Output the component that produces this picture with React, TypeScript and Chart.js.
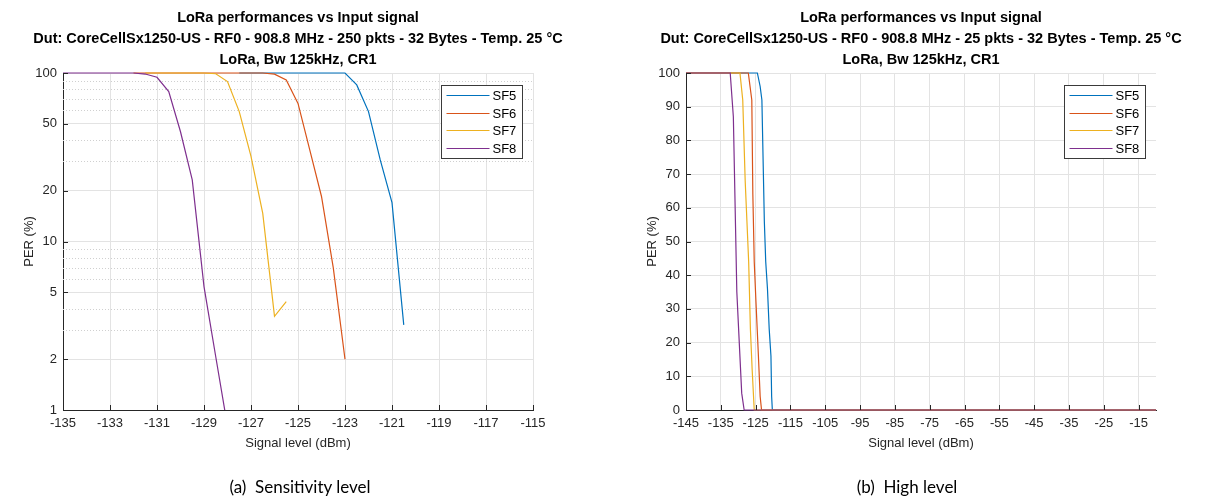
import React, { useEffect, useRef } from "react";
import { Chart, registerables } from "chart.js";
Chart.register(...registerables);

const seriesNames = ["SF5", "SF6", "SF7", "SF8"];
const seriesColors = ["#0072BD", "#D95319", "#EDB120", "#7E2F8E"];

const titleLinesSens = [
  "LoRa performances vs Input signal",
  "Dut: CoreCellSx1250-US - RF0 - 908.8 MHz - 250 pkts - 32 Bytes - Temp. 25 °C",
  "LoRa, Bw 125kHz, CR1",
];
const titleLinesHigh = [
  "LoRa performances vs Input signal",
  "Dut: CoreCellSx1250-US - RF0 - 908.8 MHz - 25 pkts - 32 Bytes - Temp. 25 °C",
  "LoRa, Bw 125kHz, CR1",
];
const xAxisTitle = "Signal level (dBm)";
const yAxisTitle = "PER (%)";
const captionSens = "(a)  Sensitivity level";
const captionHigh = "(b)  High level";

// Sensitivity level chart (log PER)
const sensXTicks = [-135, -133, -131, -129, -127, -125, -123, -121, -119, -117, -115];
const sensYTicks = [1, 2, 5, 10, 20, 50, 100];
const sensYMinor = [3, 4, 6, 7, 8, 9, 30, 40, 60, 70, 80, 90];

const sensLevelSF5 = [-127.5, -126, -125, -124, -123, -122.5, -122, -121.5, -121, -120.5];
const sensPerSF5 = [100, 100, 100, 100, 100, 85, 59, 30.5, 17, 3.2];
const sensLevelSF6 = [-132, -130, -128, -126.5, -126, -125.5, -125, -124.5, -124, -123.5, -123];
const sensPerSF6 = [100, 100, 100, 100, 98.5, 91, 66, 35, 18.5, 7, 2];
const sensLevelSF7 = [-131.5, -130, -129, -128.5, -128, -127.5, -127, -126.5, -126, -125.5];
const sensPerSF7 = [100, 100, 100, 99, 89, 59, 32, 14.7, 3.6, 4.4];
const sensLevelSF8 = [-135, -134, -133, -132, -131.5, -131, -130.5, -130, -129.5, -129, -128.5, -128];
const sensPerSF8 = [100, 100, 100, 100, 98.6, 94.3, 77.5, 44.8, 23.2, 5.4, 2.07, 0.8];

// High level chart (linear PER)
const highXTicks = [-145, -135, -125, -115, -105, -95, -85, -75, -65, -55, -45, -35, -25, -15];
const highYTicks = [0, 10, 20, 30, 40, 50, 60, 70, 80, 90, 100];

const highLevelSF5 = [-145, -135, -125, -124.5, -123.7, -123.2, -122.5, -122.1, -121.6, -121.1, -120.6, -120.4, -120.2, -115, -105, -95, -85, -75, -65, -55, -45, -35, -25, -15, -10];
const highPerSF5 = [100, 100, 100, 100, 96, 92, 56, 44, 36, 24, 16, 4, 0, 0, 0, 0, 0, 0, 0, 0, 0, 0, 0, 0, 0];
const highLevelSF6 = [-145, -135, -130, -127.1, -126.1, -125.8, -125.4, -124.9, -124.2, -123.7, -123.3, -115, -105, -95, -85, -75, -65, -55, -45, -35, -25, -15, -10];
const highPerSF6 = [100, 100, 100, 100, 92, 64, 44, 32, 16, 4, 0, 0, 0, 0, 0, 0, 0, 0, 0, 0, 0, 0, 0];
const highLevelSF7 = [-145, -135, -130, -129.5, -128.7, -128, -127.5, -127, -126.5, -126, -125.4, -115, -105, -95, -85, -75, -65, -55, -45, -35, -25, -15, -10];
const highPerSF7 = [100, 100, 100, 100, 92, 68, 56, 44, 24, 12, 0, 0, 0, 0, 0, 0, 0, 0, 0, 0, 0, 0, 0];
const highLevelSF8 = [-145, -140, -135, -133, -132.3, -131.4, -130.4, -129.7, -129, -128.3, -125, -115, -105, -95, -85, -75, -65, -55, -45, -35, -25, -15, -10];
const highPerSF8 = [100, 100, 100, 100, 100, 87, 35, 20, 5, 0, 0, 0, 0, 0, 0, 0, 0, 0, 0, 0, 0, 0, 0];

const FONT = "'Liberation Sans', Arial, Helvetica, sans-serif";
const AXIS_COLOR = "#262626";
const GRID_COLOR = "#e3e3e3";

function toPoints(xs: number[], ys: number[]) {
  return xs.map((x, i) => ({ x, y: ys[i] }));
}

function makeDatasets(levels: number[][], pers: number[][], clipBottom: number, lw: number) {
  return seriesNames.map((name, i) => ({
    label: name,
    data: toPoints(levels[i], pers[i]),
    borderColor: seriesColors[i],
    backgroundColor: seriesColors[i],
    borderWidth: lw,
    pointRadius: 0,
    tension: 0,
    fill: false,
    order: 4 - i,
    clip: { left: 0, top: 2, right: 0, bottom: clipBottom },
  }));
}

function makePlugin(titleLines: string[], minorY: number[] | null) {
  return {
    id: "custom-" + titleLines[1].length,
    beforeDatasetsDraw(chart: any) {
      if (!minorY) return;
      const { ctx, chartArea } = chart;
      const ys = chart.scales.y;
      ctx.save();
      ctx.strokeStyle = "#d0d0d0";
      ctx.lineWidth = 1;
      ctx.setLineDash([1, 2]);
      minorY.forEach((v) => {
        const py = Math.round(ys.getPixelForValue(v)) + 0.5;
        ctx.beginPath();
        ctx.moveTo(chartArea.left, py);
        ctx.lineTo(chartArea.right, py);
        ctx.stroke();
      });
      ctx.restore();
    },
    afterDraw(chart: any) {
      const { ctx, chartArea } = chart;
      const xs = chart.scales.x;
      const ys = chart.scales.y;
      ctx.save();
      // tick marks (inward)
      ctx.strokeStyle = AXIS_COLOR;
      ctx.lineWidth = 1;
      xs.ticks.forEach((t: any) => {
        const px = Math.round(xs.getPixelForValue(t.value)) + 0.5;
        ctx.beginPath();
        ctx.moveTo(px, chartArea.bottom);
        ctx.lineTo(px, chartArea.bottom - 5);
        ctx.stroke();
      });
      ys.ticks.forEach((t: any) => {
        const py = Math.round(ys.getPixelForValue(t.value)) + 0.5;
        ctx.beginPath();
        ctx.moveTo(chartArea.left, py);
        ctx.lineTo(chartArea.left + 5, py);
        ctx.stroke();
      });
      // titles
      const cx = (chartArea.left + chartArea.right) / 2;
      ctx.fillStyle = "#000";
      ctx.font = "bold 14.5px " + FONT;
      ctx.textAlign = "center";
      ctx.textBaseline = "middle";
      const titleY = [18, 39, 60];
      titleLines.forEach((line, i) => ctx.fillText(line, cx, titleY[i]));
      // legend
      const bw = 81;
      const bh = 73;
      const bx = Math.round(chartArea.right - 11 - bw) + 0.5;
      const by = Math.round(chartArea.top + 12) + 0.5;
      ctx.fillStyle = "#fff";
      ctx.fillRect(bx, by, bw, bh);
      ctx.strokeStyle = "#3a3a3a";
      ctx.lineWidth = 1;
      ctx.strokeRect(bx, by, bw, bh);
      ctx.font = "13px " + FONT;
      ctx.textAlign = "left";
      ctx.textBaseline = "middle";
      seriesNames.forEach((name, i) => {
        const ly = Math.round(by + 9.5 + i * 17.7) + 0.5;
        ctx.strokeStyle = seriesColors[i];
        ctx.lineWidth = 1.2;
        ctx.beginPath();
        ctx.moveTo(bx + 5, ly);
        ctx.lineTo(bx + 48, ly);
        ctx.stroke();
        ctx.fillStyle = "#000";
        ctx.fillText(name, bx + 51, ly + 0.5);
      });
      ctx.restore();
    },
  };
}

function axisCommon(tickValues: number[]) {
  return {
    afterBuildTicks: (scale: any) => {
      scale.ticks = tickValues.map((v) => ({ value: v }));
    },
    ticks: {
      color: AXIS_COLOR,
      font: { family: FONT, size: 13 },
      padding: 6,
      maxRotation: 0,
      minRotation: 0,
      autoSkip: false,
      callback: (v: any) => String(v),
    },
    grid: { color: GRID_COLOR, drawTicks: false, lineWidth: 1 },
    border: { color: AXIS_COLOR, width: 1 },
  };
}

function ChartPanel(props: {
  width: number;
  left: number;
  padLeft: number;
  padRight: number;
  log: boolean;
  xMin: number;
  xMax: number;
  xTicks: number[];
  yTicks: number[];
  levels: number[][];
  pers: number[][];
  titleLines: string[];
  minorY: number[] | null;
  clipBottom: number;
  lineWidth: number;
}) {
  const ref = useRef<HTMLCanvasElement | null>(null);
  useEffect(() => {
    if (!ref.current) return;
    const xc = axisCommon(props.xTicks);
    const yc = axisCommon(props.yTicks);
    const chart = new Chart(ref.current, {
      type: "line",
      data: { datasets: makeDatasets(props.levels, props.pers, props.clipBottom, props.lineWidth) as any },
      options: {
        responsive: false,
        animation: false,
        devicePixelRatio: 1,
        layout: { padding: { left: props.padLeft, right: props.padRight, top: 73, bottom: 43 } },
        plugins: { legend: { display: false }, tooltip: { enabled: false }, title: { display: false } },
        scales: {
          x: {
            type: "linear",
            min: props.xMin,
            max: props.xMax,
            ...xc,
            title: {
              display: true,
              text: xAxisTitle,
              color: AXIS_COLOR,
              font: { family: FONT, size: 13 },
              padding: { top: 4, bottom: 4 },
            },
            afterFit: (s: any) => {
              s.height = 45;
            },
          } as any,
          y: {
            type: props.log ? "logarithmic" : "linear",
            min: props.log ? 1 : 0,
            max: 100,
            ...yc,
            title: {
              display: true,
              text: yAxisTitle,
              color: AXIS_COLOR,
              font: { family: FONT, size: 13 },
              padding: { top: 4, bottom: 4 },
            },
            afterFit: (s: any) => {
              s.width = 45;
            },
          } as any,
        },
      },
      plugins: [makePlugin(props.titleLines, props.minorY)],
    });
    return () => chart.destroy();
  }, []);
  return (
    <canvas
      ref={ref}
      width={props.width}
      height={498}
      style={{ position: "absolute", left: props.left, top: 0, width: props.width, height: 498 }}
    />
  );
}

export default function App() {
  const captionStyle: React.CSSProperties = {
    position: "absolute",
    top: 476,
    width: 600,
    textAlign: "center",
    fontFamily: "Lato, 'Open Sans', sans-serif",
    fontSize: 17,
    lineHeight: "22px",
    color: "#000",
    whiteSpace: "pre",
  };
  return (
    <div style={{ position: "absolute", left: 0, top: 0, width: 1215, height: 498, background: "#fff", overflow: "hidden" }}>
      <ChartPanel
        width={607}
        left={0}
        padLeft={18}
        padRight={74}
        log={true}
        xMin={-135}
        xMax={-115}
        xTicks={sensXTicks}
        yTicks={sensYTicks}
        levels={[sensLevelSF5, sensLevelSF6, sensLevelSF7, sensLevelSF8]}
        pers={[sensPerSF5, sensPerSF6, sensPerSF7, sensPerSF8]}
        titleLines={titleLinesSens}
        minorY={sensYMinor}
        clipBottom={0}
        lineWidth={1.2}
      />
      <ChartPanel
        width={608}
        left={607}
        padLeft={34}
        padRight={59}
        log={false}
        xMin={-145}
        xMax={-10}
        xTicks={highXTicks}
        yTicks={highYTicks}
        levels={[highLevelSF5, highLevelSF6, highLevelSF7, highLevelSF8]}
        pers={[highPerSF5, highPerSF6, highPerSF7, highPerSF8]}
        titleLines={titleLinesHigh}
        minorY={null}
        clipBottom={3}
        lineWidth={1.2}
      />
      <div style={{ ...captionStyle, left: 0 }}>{captionSens}</div>
      <div style={{ ...captionStyle, left: 607 }}>{captionHigh}</div>
    </div>
  );
}
